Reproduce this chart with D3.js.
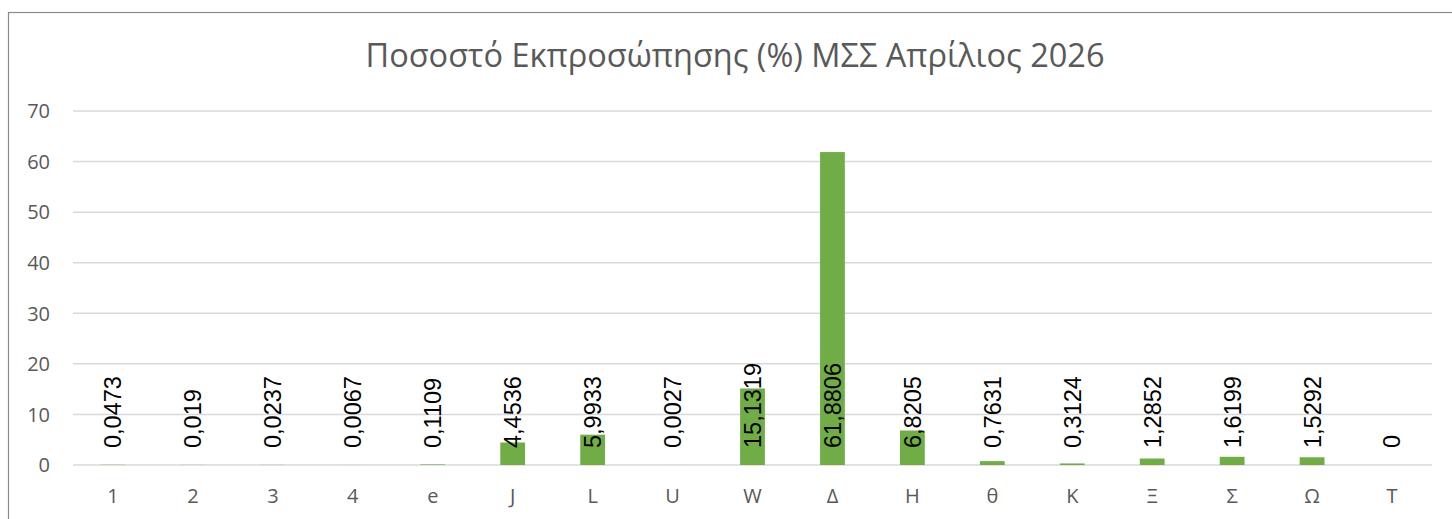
<!DOCTYPE html>
<html>
<head>
<meta charset="utf-8">
<script src="https://cdn.jsdelivr.net/npm/d3@7"></script>
<style>
  html, body { margin: 0; padding: 0; background: #ffffff; }
  svg { display: block; }
</style>
</head>
<body>
<svg id="chart" width="1452" height="519"></svg>
<script>
const titleText = "Ποσοστό Εκπροσώπησης (%) ΜΣΣ Απρίλιος 2026";
const categories = ["1", "2", "3", "4", "e", "J", "L", "U", "W", "Δ", "Η", "θ", "Κ", "Ξ", "Σ", "Ω", "Τ"];
const values = [0.0473, 0.019, 0.0237, 0.0067, 0.1109, 4.4536, 5.9933, 0.0027, 15.1319, 61.8806, 6.8205, 0.7631, 0.3124, 1.2852, 1.6199, 1.5292, 0];
const valueLabels = ["0,0473", "0,019", "0,0237", "0,0067", "0,1109", "4,4536", "5,9933", "0,0027", "15,1319", "61,8806", "6,8205", "0,7631", "0,3124", "1,2852", "1,6199", "1,5292", "0"];
const yTicks = [0, 10, 20, 30, 40, 50, 60, 70];

const svg = d3.select("#chart");
const W = 1452, H = 519;
const plot = { left: 73, right: 1432, top: 111, bottom: 465 };
const fontUI = "'Open Sans', 'Noto Sans', sans-serif";

// chart border (top and left visible)
svg.append("rect")
  .attr("x", 8.5).attr("y", 12.5)
  .attr("width", W + 20).attr("height", H + 20)
  .attr("fill", "#ffffff")
  .attr("stroke", "#8a8a8a").attr("stroke-width", 1.2);

const x = d3.scaleBand().domain(categories).range([plot.left, plot.right]).paddingInner(0.69).paddingOuter(0.345);
const y = d3.scaleLinear().domain([0, 70]).range([plot.bottom, plot.top]);

// gridlines
svg.append("g").selectAll("line").data(yTicks).join("line")
  .attr("x1", plot.left).attr("x2", plot.right)
  .attr("y1", d => y(d)).attr("y2", d => y(d))
  .attr("stroke", "#d9d9d9").attr("stroke-width", 1.5);

// y axis labels
const yAxis = d3.axisLeft(y).tickValues(yTicks).tickSize(0).tickPadding(0).tickFormat(d3.format("d"));
const yg = svg.append("g").attr("transform", `translate(50,0)`).call(yAxis);
yg.select(".domain").remove();
yg.selectAll("text").attr("font-family", fontUI).attr("font-size", 20).attr("fill", "#595959").attr("dy", "0.34em");

// x axis labels
const xAxis = d3.axisBottom(x).tickSize(0).tickPadding(0);
const xg = svg.append("g").attr("transform", `translate(0,${plot.bottom})`).call(xAxis);
xg.select(".domain").remove();
xg.selectAll("text").attr("font-family", fontUI).attr("font-size", 20).attr("fill", "#595959").attr("dy", null).attr("y", 38);

// bars
svg.append("g").selectAll("rect").data(values).join("rect")
  .attr("x", (d, i) => x(categories[i]))
  .attr("width", x.bandwidth())
  .attr("y", d => y(d))
  .attr("height", d => y(0) - y(d))
  .attr("fill", "#70ad47");

// data labels (rotated, anchored at inside base)
svg.append("g").selectAll("text").data(values).join("text")
  .attr("transform", (d, i) => `translate(${x(categories[i]) + x.bandwidth() / 2},${y(0) - 17}) rotate(-90)`)
  .attr("text-anchor", "start")
  .attr("dy", "0.36em")
  .attr("font-family", "'Liberation Sans', Arial, sans-serif")
  .attr("font-size", 23.5)
  .attr("fill", "#000000")
  .text((d, i) => valueLabels[i]);

// title
svg.append("text")
  .attr("x", 735).attr("y", 67)
  .attr("text-anchor", "middle")
  .attr("font-family", fontUI)
  .attr("font-size", 32.5)
  .attr("fill", "#595959")
  .text(titleText);
</script>
</body>
</html>
